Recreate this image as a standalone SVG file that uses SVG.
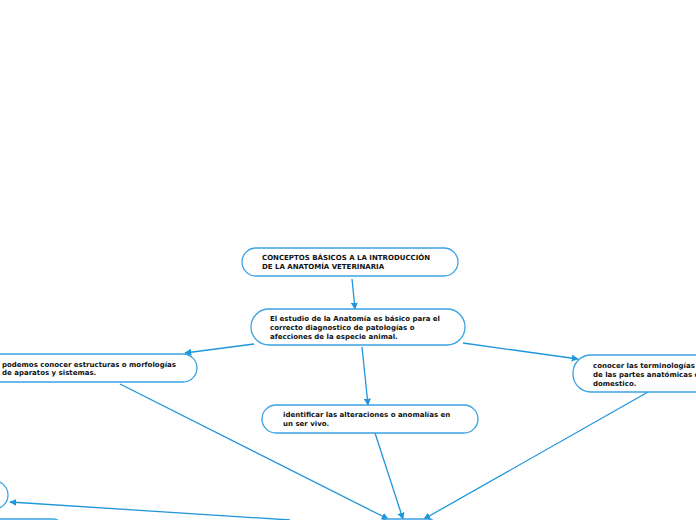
<svg xmlns="http://www.w3.org/2000/svg" width="696" height="520" viewBox="0 0 696 520">
<style>
.node rect{fill:#fff;stroke:#3aa3e3;stroke-width:1.3}
.node text{font-family:"DejaVu Sans",Verdana,sans-serif;font-size:7px;font-weight:bold;fill:#111}
.conn line{stroke:#1f96dc;stroke-width:1.3;fill:none}
</style>
<defs>
<marker id="ah" viewBox="0 0 10 10" refX="9" refY="5" markerWidth="7" markerHeight="7" markerUnits="userSpaceOnUse" orient="auto">
<path d="M0,0 L10,5 L0,10 z" fill="#1f96dc"/>
</marker>
</defs>
<rect width="696" height="520" fill="#fff"/>
<g class="conn">
<line x1="352" y1="279" x2="355" y2="309" marker-end="url(#ah)"/>
<line x1="254" y1="344" x2="185" y2="353" marker-end="url(#ah)"/>
<line x1="463" y1="343" x2="578" y2="359" marker-end="url(#ah)"/>
<line x1="362" y1="347" x2="368" y2="405" marker-end="url(#ah)"/>
<line x1="120" y1="384" x2="388" y2="519" marker-end="url(#ah)"/>
<line x1="375" y1="433" x2="403" y2="519" marker-end="url(#ah)"/>
<line x1="648" y1="392" x2="424" y2="519" marker-end="url(#ah)"/>
<line x1="290" y1="520" x2="10" y2="502" marker-end="url(#ah)"/>
</g>
<g id="n1" class="node">
<rect x="242" y="248" width="216" height="28" rx="14"/>
<text x="262" y="260">CONCEPTOS BÁSICOS A LA INTRODUCCIÓN</text>
<text x="262" y="269">DE LA ANATOMÍA VETERINARIA</text>
</g>
<g id="n2" class="node">
<rect x="251" y="309" width="214" height="36" rx="18"/>
<text x="270" y="321">El estudio de la Anatomía es básico para el</text>
<text x="270" y="330">correcto diagnostico de patologías o</text>
<text x="270" y="339">afecciones de la especie animal.</text>
</g>
<g id="n3" class="node">
<rect x="-30" y="354" width="227" height="28" rx="14"/>
<text x="2" y="367">podemos conocer estructuras o morfologías</text>
<text x="2" y="375">de aparatos y sistemas.</text>
</g>
<g id="n4" class="node">
<rect x="573" y="355" width="160" height="37" rx="18"/>
<text x="593" y="368">conocer las terminologías</text>
<text x="593" y="377">de las partes anatómicas del</text>
<text x="593" y="386">domestico.</text>
</g>
<g id="n5" class="node">
<rect x="262" y="405" width="216" height="28" rx="14"/>
<text x="283" y="417">identificar las alteraciones o anomalías en</text>
<text x="283" y="426">un ser vivo.</text>
</g>
<g id="n6" class="node">
<rect x="377" y="519" width="61" height="28" rx="10"/>
</g>
<g id="n7" class="node">
<rect x="-60" y="481" width="68" height="28" rx="14"/>
</g>
<g id="n8" class="node">
<rect x="-60" y="519" width="123" height="28" rx="10"/>
</g>
</svg>
